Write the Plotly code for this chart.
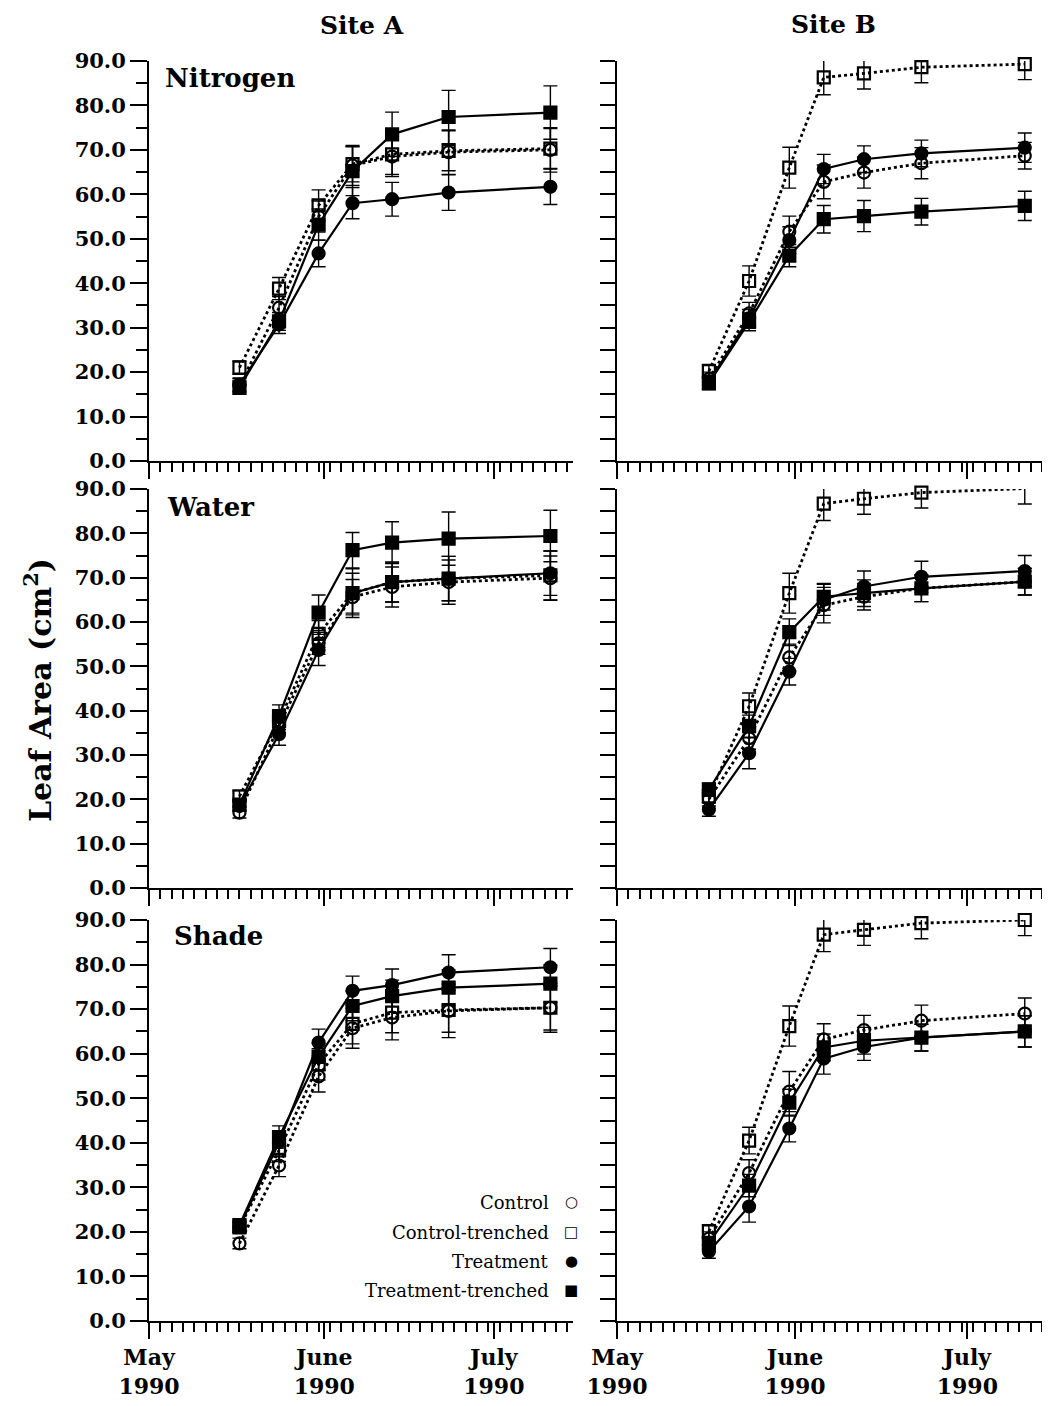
import plotly.graph_objects as go

# ---------------- data ----------------
dates = ["1990-05-17", "1990-05-24", "1990-05-31", "1990-06-06",
         "1990-06-13", "1990-06-23", "1990-07-11"]
series_names = ["Control", "Control-trenched", "Treatment", "Treatment-trenched"]
month_ticks = ["1990-05-01", "1990-06-01", "1990-07-01"]
month_labels = ["May<br>1990", "June<br>1990", "July<br>1990"]
y_ticks = [0, 10, 20, 30, 40, 50, 60, 70, 80, 90]
panel_labels = ["Nitrogen", "Water", "Shade"]
site_labels = ["Site A", "Site B"]

# Site A - Nitrogen
a_nit_control = [17.0, 34.5, 55.0, 66.5, 68.5, 69.5, 70.0]
a_nit_control_err = [1.5, 2.5, 3.5, 4.5, 4.5, 5.0, 5.0]
a_nit_ctrench = [21.0, 38.8, 57.5, 66.8, 69.0, 69.8, 70.3]
a_nit_ctrench_err = [1.5, 2.5, 3.5, 4.0, 4.5, 4.5, 4.5]
a_nit_treat = [17.2, 30.7, 46.7, 58.0, 58.9, 60.4, 61.7]
a_nit_treat_err = [1.5, 2.0, 3.0, 3.5, 3.8, 4.0, 4.0]
a_nit_ttrench = [16.5, 31.4, 53.2, 65.2, 73.5, 77.4, 78.4]
a_nit_ttrench_err = [1.5, 2.0, 3.5, 5.5, 5.0, 6.0, 6.0]

# Site B - Nitrogen
b_nit_control = [18.5, 33.2, 51.6, 62.8, 64.9, 67.0, 68.7]
b_nit_control_err = [1.5, 2.5, 3.5, 3.8, 3.5, 3.5, 3.0]
b_nit_ctrench = [20.2, 40.5, 66.0, 86.3, 87.2, 88.6, 89.3]
b_nit_ctrench_err = [1.5, 3.4, 4.6, 3.9, 3.5, 3.5, 3.5]
b_nit_treat = [17.8, 32.1, 49.7, 65.7, 67.9, 69.2, 70.5]
b_nit_treat_err = [1.5, 2.0, 3.0, 3.3, 3.0, 3.0, 3.3]
b_nit_ttrench = [17.5, 31.3, 46.2, 54.4, 55.1, 56.1, 57.4]
b_nit_ttrench_err = [1.5, 2.0, 2.5, 3.1, 3.5, 3.0, 3.3]

# Site A - Water
a_wat_control = [17.0, 36.6, 55.2, 65.6, 67.9, 69.0, 69.9]
a_wat_control_err = [1.2, 2.0, 2.5, 4.0, 4.5, 5.0, 5.0]
a_wat_ctrench = [20.7, 37.7, 57.3, 66.5, 69.0, 69.8, 70.5]
a_wat_ctrench_err = [1.2, 2.0, 3.0, 4.5, 4.5, 5.0, 5.5]
a_wat_treat = [18.5, 34.7, 53.7, 66.5, 69.0, 69.8, 71.0]
a_wat_treat_err = [1.2, 2.5, 3.5, 5.5, 4.5, 5.0, 5.0]
a_wat_ttrench = [18.8, 38.8, 62.1, 76.2, 77.9, 78.8, 79.4]
a_wat_ttrench_err = [1.2, 2.5, 4.0, 4.0, 4.7, 6.0, 5.8]

# Site B - Water
b_wat_control = [20.0, 33.8, 52.0, 63.8, 65.7, 67.6, 69.1]
b_wat_control_err = [1.5, 2.5, 3.0, 4.0, 3.0, 3.0, 3.0]
b_wat_ctrench = [20.7, 41.0, 66.5, 86.7, 87.8, 89.2, 90.1]
b_wat_ctrench_err = [1.5, 3.0, 4.5, 3.8, 3.5, 3.5, 3.5]
b_wat_treat = [17.7, 30.4, 48.8, 65.0, 68.0, 70.2, 71.5]
b_wat_treat_err = [1.5, 3.5, 3.0, 3.5, 3.5, 3.5, 3.5]
b_wat_ttrench = [22.2, 36.5, 57.7, 65.7, 66.5, 67.6, 69.1]
b_wat_ttrench_err = [1.5, 2.5, 3.0, 3.0, 3.0, 3.0, 3.0]

# Site A - Shade
a_sha_control = [17.4, 34.9, 54.9, 65.7, 68.1, 69.6, 70.3]
a_sha_control_err = [1.2, 2.5, 3.5, 4.5, 5.0, 6.0, 5.5]
a_sha_ctrench = [21.0, 38.3, 57.6, 66.7, 69.2, 69.8, 70.3]
a_sha_ctrench_err = [1.2, 2.5, 3.5, 4.5, 4.5, 5.0, 5.0]
a_sha_treat = [21.1, 40.1, 62.5, 74.1, 75.4, 78.2, 79.4]
a_sha_treat_err = [1.2, 2.5, 3.0, 3.3, 3.6, 4.0, 4.2]
a_sha_ttrench = [21.5, 41.3, 59.3, 70.7, 72.9, 74.8, 75.7]
a_sha_ttrench_err = [1.2, 2.5, 3.0, 3.3, 3.6, 4.0, 4.2]

# Site B - Shade
b_sha_control = [18.5, 33.2, 51.5, 63.2, 65.3, 67.4, 69.0]
b_sha_control_err = [1.5, 3.0, 4.5, 3.5, 3.3, 3.5, 3.5]
b_sha_ctrench = [20.1, 40.5, 66.2, 86.7, 87.8, 89.3, 90.0]
b_sha_ctrench_err = [1.5, 3.0, 4.5, 3.8, 3.5, 3.5, 3.5]
b_sha_treat = [15.6, 25.7, 43.2, 58.9, 61.5, 63.6, 65.0]
b_sha_treat_err = [1.5, 3.5, 3.0, 3.5, 3.0, 3.0, 3.5]
b_sha_ttrench = [17.5, 30.4, 49.0, 61.4, 62.9, 63.6, 65.0]
b_sha_ttrench_err = [1.5, 2.5, 3.0, 3.0, 3.0, 3.0, 3.5]

panels = [
    # (row, col, values, errors)
    (0, 0, [a_nit_control, a_nit_ctrench, a_nit_treat, a_nit_ttrench],
     [a_nit_control_err, a_nit_ctrench_err, a_nit_treat_err, a_nit_ttrench_err]),
    (0, 1, [b_nit_control, b_nit_ctrench, b_nit_treat, b_nit_ttrench],
     [b_nit_control_err, b_nit_ctrench_err, b_nit_treat_err, b_nit_ttrench_err]),
    (1, 0, [a_wat_control, a_wat_ctrench, a_wat_treat, a_wat_ttrench],
     [a_wat_control_err, a_wat_ctrench_err, a_wat_treat_err, a_wat_ttrench_err]),
    (1, 1, [b_wat_control, b_wat_ctrench, b_wat_treat, b_wat_ttrench],
     [b_wat_control_err, b_wat_ctrench_err, b_wat_treat_err, b_wat_ttrench_err]),
    (2, 0, [a_sha_control, a_sha_ctrench, a_sha_treat, a_sha_ttrench],
     [a_sha_control_err, a_sha_ctrench_err, a_sha_treat_err, a_sha_ttrench_err]),
    (2, 1, [b_sha_control, b_sha_ctrench, b_sha_treat, b_sha_ttrench],
     [b_sha_control_err, b_sha_ctrench_err, b_sha_treat_err, b_sha_ttrench_err]),
]

# ---------------- styles / geometry ----------------
# The page body has an 8px margin, so the figure starts at (8, 8) in the window.
OX, OY = 8, 8
W, H = 1034, 1390
SERIF = "DejaVu Serif"
styles = {
    "Control": dict(symbol="circle-open", dash="dot"),
    "Control-trenched": dict(symbol="square-open", dash="dot"),
    "Treatment": dict(symbol="circle", dash="solid"),
    "Treatment-trenched": dict(symbol="square", dash="solid"),
}
# window-pixel positions of the panels
col_px = [(149, 573), (617, 1042)]
row_px = [(61, 461), (489, 888), (920, 1321)]
x_ranges = [["1990-05-01", "1990-07-15"], ["1990-05-01", "1990-07-14"]]

def px_x(x):
    return (x - OX) / W

def px_y(y):
    return 1 - (y - OY) / H

def xdom(c):
    return [px_x(col_px[c][0]), min(1.0, px_x(col_px[c][1]))]

def ydom(r):
    return [px_y(row_px[r][1]), px_y(row_px[r][0])]

fig = go.Figure()
layout = dict(
    template="none",
    width=W, height=H,
    margin=dict(l=0, r=0, t=0, b=0, autoexpand=False),
    paper_bgcolor="white", plot_bgcolor="white",
    showlegend=False,
    font=dict(family=SERIF, color="black"),
)

for i, (r, c, vals, errs) in enumerate(panels):
    k = i + 1
    xa = "x" if k == 1 else f"x{k}"
    ya = "y" if k == 1 else f"y{k}"
    for name, v, e in zip(series_names, vals, errs):
        st = styles[name]
        fig.add_trace(go.Scatter(
            x=dates, y=v, name=name, mode="lines+markers",
            xaxis=xa, yaxis=ya, cliponaxis=False,
            line=dict(color="black", width=2.2 if st["dash"] == "solid" else 2.8,
                      dash=st["dash"]),
            marker=dict(symbol=st["symbol"], size=12, color="black",
                        line=dict(color="black", width=2.2)),
            error_y=dict(type="data", array=e, visible=True, color="black",
                         thickness=1.4, width=7),
        ))
    bottom = (r == 2)
    xkey = "xaxis" if k == 1 else f"xaxis{k}"
    ykey = "yaxis" if k == 1 else f"yaxis{k}"
    xaxis = dict(
        domain=xdom(c), anchor=ya, type="date", range=x_ranges[c],
        automargin=False,
        tickmode="array", tickvals=month_ticks,
        showticklabels=bottom,
        ticks="outside", ticklen=16, tickwidth=2, tickcolor="black",
        showline=True, linecolor="black", linewidth=2,
        showgrid=False, zeroline=False,
        tickfont=dict(family=SERIF, size=22, weight="bold", color="black"),
        minor=dict(ticks="outside", ticklen=9, tickwidth=1.6, tickcolor="black",
                   dtick=2 * 86400000, tick0="1990-05-01", showgrid=False),
    )
    if bottom:
        xaxis["ticktext"] = month_labels
    layout[xkey] = xaxis
    if c == 0:
        layout[ykey] = dict(
            domain=ydom(r), anchor=xa, range=[0, 90], automargin=False,
            tickmode="array", tickvals=y_ticks,
            ticktext=[f"{t:.1f}" for t in y_ticks],
            ticks="outside", ticklen=17, tickwidth=2, tickcolor="black",
            showline=True, linecolor="black", linewidth=2,
            showgrid=False, zeroline=False,
            tickfont=dict(family=SERIF, size=21, weight="bold", color="black"),
            minor=dict(ticks="outside", ticklen=11, tickwidth=2, tickcolor="black",
                       dtick=5, tick0=0, showgrid=False),
        )
    else:
        layout[ykey] = dict(
            domain=ydom(r), anchor=xa, range=[0, 90], automargin=False,
            dtick=5, tick0=0, showticklabels=False,
            ticks="outside", ticklen=15, tickwidth=2, tickcolor="black",
            showline=True, linecolor="black", linewidth=2,
            showgrid=False, zeroline=False,
        )

fig.update_layout(**layout)

# ---------------- annotations ----------------
ann = []
site_x = [362, 833]
site_top = [10, 9]
for s, sx, sy in zip(site_labels, site_x, site_top):
    ann.append(dict(text=f"<b>{s}</b>", x=px_x(sx), y=px_y(sy), xref="paper", yref="paper",
                    showarrow=False, xanchor="center", yanchor="top", borderpad=0,
                    font=dict(family=SERIF, size=25, color="black")))
lab_x = [163, 165, 172]
lab_y = [78, 507, 936]
for t, lx, ly in zip(panel_labels, lab_x, lab_y):
    ann.append(dict(text=f"<b>{t}</b>", x=px_x(lx), y=px_y(ly), xref="paper", yref="paper",
                    showarrow=False, xanchor="left", yanchor="middle",
                    font=dict(family=SERIF, size=26, color="black")))
ann.append(dict(text="<b>Leaf Area (cm<sup>2</sup>)</b>", x=px_x(38), y=px_y(690),
                xref="paper", yref="paper", showarrow=False, textangle=-90,
                xanchor="center", yanchor="middle",
                font=dict(family=SERIF, size=30, color="black")))
# legend (text right-aligned, symbol to the right)
leg_y = [1202, 1232, 1261, 1290]
leg_sym = ["○", "□", "●", "■"]
for name, ly, sym in zip(series_names, leg_y, leg_sym):
    ann.append(dict(text=name, x=px_x(551), y=px_y(ly), xref="paper", yref="paper",
                    showarrow=False, xanchor="right", yanchor="middle",
                    font=dict(family=SERIF, size=18, color="black")))
    ann.append(dict(text=sym, x=px_x(571), y=px_y(ly), xref="paper", yref="paper",
                    showarrow=False, xanchor="center", yanchor="middle",
                    font=dict(family="DejaVu Sans", size=15, color="black")))
fig.update_layout(annotations=ann)

fig.write_html("out.html")
